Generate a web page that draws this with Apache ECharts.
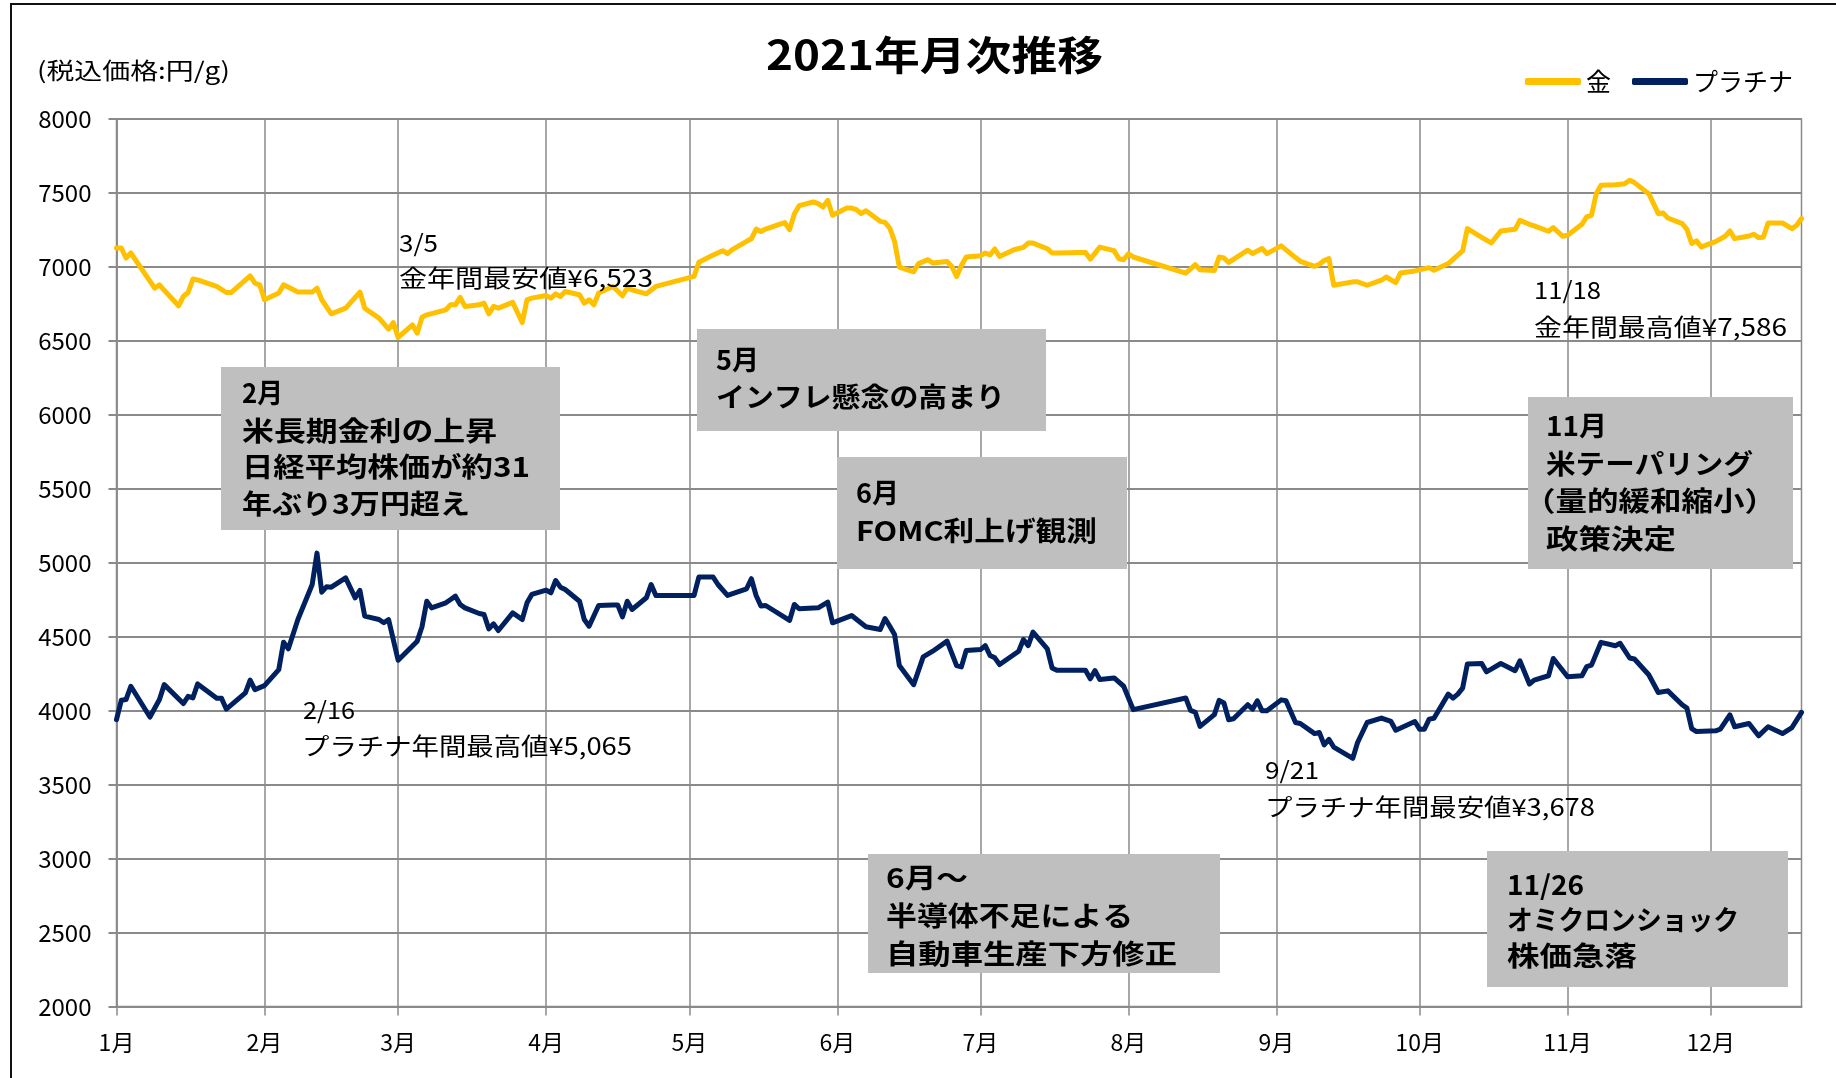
<!DOCTYPE html>
<html>
<head>
<meta charset="utf-8">
<script src="https://cdn.jsdelivr.net/npm/echarts@6/dist/echarts.min.js"></script>
<style>
html,body{margin:0;padding:0;background:#fff;}
#chart{width:1836px;height:1078px;}
</style>
</head>
<body>
<div id="chart"></div>
<script>
// ---- data ----
const axisStart = '2021-01-05';
const axisEnd = '2021-12-24';
const seriesNames = ['金', 'プラチナ'];
const yTicks = [2000, 8000, 500];

const goldDates = [
  '1/5','1/6','1/7','1/8','1/13','1/14','1/15','1/18','1/19','1/20','1/21','1/22','1/26','1/28','1/29',
  '2/2','2/3','2/4','2/5','2/8','2/9','2/12','2/15','2/16','2/17','2/19','2/22','2/25','2/26',
  '3/1','3/3','3/4','3/5','3/8','3/9','3/10','3/11','3/15','3/16','3/17','3/18','3/19','3/22','3/23','3/24','3/25','3/26','3/29','3/31',
  '4/1','4/2','4/5','4/6','4/7','4/8','4/9','4/12','4/13','4/14','4/15','4/16','4/19','4/21','4/22','4/23','4/26','4/28',
  '5/6','5/7','5/10','5/12','5/13','5/14','5/17','5/18','5/19','5/20','5/21','5/24','5/25','5/26','5/27','5/28','5/31',
  '6/1','6/2','6/3','6/4','6/7','6/8','6/9','6/10','6/11','6/14','6/15','6/16','6/17','6/18','6/21','6/22','6/24','6/25','6/28','6/29','6/30',
  '7/1','7/2','7/5','7/6','7/7','7/8','7/9','7/12','7/14','7/15','7/16','7/19','7/20','7/21','7/26','7/27','7/28','7/30',
  '8/2','8/3','8/4','8/5','8/6','8/17','8/19','8/20','8/23','8/24','8/25','8/26','8/30','8/31',
  '9/2','9/3','9/6','9/9','9/10','9/13','9/14','9/15','9/16','9/17','9/21','9/22','9/24','9/27','9/28','9/30',
  '10/1','10/4','10/7','10/8','10/11','10/14','10/15','10/18','10/20','10/22','10/25','10/26','10/28','10/29',
  '11/1','11/2','11/4','11/5','11/8','11/9','11/10','11/11','11/12','11/15','11/17','11/18','11/19','11/22','11/24','11/25','11/26','11/29','11/30',
  '12/1','12/2','12/3','12/6','12/8','12/9','12/10','12/13','12/14','12/15','12/16','12/17','12/20','12/22','12/23','12/24'
];
const goldValues = [
  7128,7128,7060,7094,6857,6879,6842,6737,6800,6827,6918,6912,6868,6827,6827,
  6940,6891,6879,6778,6823,6879,6830,6830,6857,6778,6683,6721,6830,6721,
  6654,6579,6624,6523,6608,6552,6660,6676,6710,6744,6744,6794,6733,6744,6755,6683,6733,6721,6760,6624,
  6778,6789,6807,6789,6818,6800,6834,6812,6755,6778,6744,6823,6868,6805,6857,6845,6818,6868,
  6936,7031,7080,7110,7090,7117,7173,7190,7256,7240,7256,7290,7300,7252,7358,7414,7439,
  7428,7405,7450,7349,7398,7398,7387,7360,7380,7308,7301,7263,7173,6999,6967,7022,7049,7026,7037,7003,6936,
  7010,7067,7076,7094,7082,7121,7071,7116,7132,7161,7161,7123,7094,7094,7098,7098,7053,7134,
  7110,7055,7049,7089,7067,6958,7015,6981,6976,7067,7060,7031,7113,7091,
  7124,7090,7142,7063,7038,7004,7018,7043,7056,6876,6899,6899,6876,6910,6932,6894,
  6959,6973,6995,6977,7023,7108,7259,7200,7162,7243,7254,7315,7288,7277,
  7241,7266,7207,7214,7288,7338,7349,7495,7552,7556,7563,7586,7570,7495,7360,7365,7331,7293,7254,
  7158,7176,7135,7171,7207,7243,7191,7209,7221,7198,7200,7297,7297,7259,7282,7327
];

const platDates = [
  '1/5','1/6','1/7','1/8','1/12','1/14','1/15','1/19','1/20','1/21','1/22','1/26','1/27','1/28',
  '2/1','2/2','2/3','2/5','2/8','2/9','2/10','2/12','2/15','2/16','2/17','2/18','2/19','2/22','2/24','2/25','2/26',
  '3/1','3/2','3/3','3/5','3/9','3/10','3/11','3/12','3/15','3/16','3/17','3/18','3/19','3/22','3/23','3/24','3/25','3/26','3/29','3/31',
  '4/1','4/2','4/5','4/6','4/7','4/8','4/9','4/12','4/13','4/14','4/16','4/19','4/20','4/21','4/22','4/23','4/26','4/27','4/28',
  '5/6','5/7','5/10','5/11','5/13','5/17','5/18','5/19','5/20','5/21','5/26','5/27','5/28',
  '6/1','6/3','6/4','6/8','6/11','6/14','6/15','6/16','6/17','6/18','6/21','6/23','6/25','6/28','6/30',
  '7/1','7/2','7/5','7/6','7/7','7/8','7/9','7/13','7/14','7/15','7/16','7/19','7/20','7/21','7/26','7/27','7/28','7/29','7/30',
  '8/2','8/4','8/6','8/17','8/18','8/19','8/20','8/23','8/24','8/25','8/26','8/27','8/30','8/31',
  '9/1','9/2','9/3','9/6','9/7','9/9','9/10','9/13','9/14','9/15','9/16','9/17','9/21','9/22','9/24','9/27','9/29','9/30',
  '10/4','10/5','10/6','10/7','10/8','10/11','10/12','10/13','10/14','10/15','10/18','10/19','10/20','10/22','10/25','10/26','10/28','10/29',
  '11/1','11/2','11/5','11/8','11/9','11/10','11/12','11/15','11/16','11/18','11/19','11/22','11/24','11/26','11/29','11/30',
  '12/1','12/2','12/6','12/7','12/9','12/10','12/13','12/15','12/17','12/20','12/22','12/24'
];
const platValues = [
  3939,4070,4075,4165,3957,4075,4176,4048,4097,4086,4181,4084,4084,4011,
  4120,4206,4142,4169,4278,4463,4418,4616,4853,5065,4801,4837,4835,4898,4763,4813,4639,
  4616,4594,4616,4341,4470,4567,4740,4695,4729,4752,4774,4718,4695,4657,4650,4553,4587,4542,4661,4616,
  4729,4786,4815,4797,4880,4835,4819,4740,4616,4571,4711,4715,4715,4634,4740,4684,4763,4853,4779,
  4779,4903,4903,4853,4779,4824,4892,4779,4707,4711,4610,4718,4689,
  4695,4734,4594,4643,4567,4549,4623,4571,4515,4305,4176,4364,4402,4470,4305,
  4296,4406,4413,4440,4373,4357,4312,4402,4481,4440,4531,4418,4289,4273,4273,4273,4215,4271,4210,
  4221,4165,4007,4086,4002,3989,3894,3973,4070,4052,3939,3945,4040,4010,
  4067,3999,3999,4073,4067,3920,3913,3845,3852,3769,3806,3754,3678,3785,3920,3950,3927,3868,
  3927,3875,3875,3943,3949,4112,4085,4112,4152,4315,4319,4263,4281,4319,4270,4337,4180,4207,
  4236,4353,4229,4236,4297,4308,4462,4439,4455,4356,4349,4243,4123,4134,4040,4017,
  3879,3859,3864,3875,3972,3891,3913,3830,3891,3845,3886,3988
];

// ---- axis categories: every calendar day of the axis span ----
const categories = [];
(function () {
  const s = new Date(axisStart + 'T00:00:00Z').getTime();
  const e = new Date(axisEnd + 'T00:00:00Z').getTime();
  for (let t = s; t <= e; t += 86400000) {
    const d = new Date(t);
    categories.push((d.getUTCMonth() + 1) + '/' + d.getUTCDate());
  }
})();
const tickDay = axisStart.split('-')[2].replace(/^0/, '');
const isMonthTick = (idx, name) => name.split('/')[1] === tickDay;
const toPairs = (dates, vals) => dates.map((d, i) => [categories.indexOf(d), vals[i]]);

// ---- text helpers (annotations) ----
const FONT = '"Noto Sans CJK JP", "Noto Sans CJK SC", sans-serif';
const mctx = document.createElement('canvas').getContext('2d');
function fitText(text, x, yc, w, size, bold) {
  const font = (bold ? 'bold ' : '') + size + 'px ' + FONT;
  mctx.font = font;
  const m = mctx.measureText(text).width;
  const sx = m > 0 ? w / m : 1;
  return {
    type: 'text', x: x, y: yc, scaleX: sx, scaleY: 1, z: 20,
    style: { text: text, font: font, fill: '#000', textAlign: 'left', verticalAlign: 'middle', textVerticalAlign: 'middle' }
  };
}
function box(x, y, w, h) {
  return { type: 'rect', z: 15, shape: { x: x, y: y, width: w, height: h }, style: { fill: '#bfbfbf' } };
}

const graphics = [
  { type: 'rect', z: 1, shape: { x: 11, y: 4, width: 1900, height: 1200 }, style: { fill: 'none', stroke: '#111', lineWidth: 2 } },
  fitText('2021年月次推移', 766, 55, 337, 40, true),
  fitText('(税込価格:円/g)', 37, 70, 193, 23, false),

  fitText('3/5', 399, 243, 39, 24, false),
  fitText('金年間最安値¥6,523', 399, 278, 254, 24, false),
  fitText('11/18', 1534, 290, 67, 24, false),
  fitText('金年間最高値¥7,586', 1534, 327, 253, 24, false),
  fitText('2/16', 303, 710, 52, 24, false),
  fitText('プラチナ年間最高値¥5,065', 302, 746, 330, 24, false),
  fitText('9/21', 1265, 770, 54, 24, false),
  fitText('プラチナ年間最安値¥3,678', 1265, 807, 330, 24, false),

  box(221, 367, 339, 163),
  fitText('2月', 242, 393, 41, 27, true),
  fitText('米長期金利の上昇', 242, 431, 255, 27, true),
  fitText('日経平均株価が約31', 242, 467, 288, 27, true),
  fitText('年ぶり3万円超え', 242, 504, 228, 27, true),

  box(697, 329, 349, 102),
  fitText('5月', 716, 360, 43, 27, true),
  fitText('インフレ懸念の高まり', 716, 397, 289, 27, true),

  box(837, 457, 290, 112),
  fitText('6月', 856, 493, 43, 27, true),
  fitText('FOMC利上げ観測', 856, 531, 241, 27, true),

  box(1528, 397, 265, 172),
  fitText('11月', 1546, 426, 61, 27, true),
  fitText('米テーパリング', 1546, 464, 207, 27, true),
  fitText('（量的緩和縮小）', 1524, 501, 252, 27, true),
  fitText('政策決定', 1546, 539, 130, 27, true),

  box(868, 854, 352, 119),
  fitText('6月～', 886, 878, 82, 27, true),
  fitText('半導体不足による', 886, 916, 247, 27, true),
  fitText('自動車生産下方修正', 886, 954, 291, 27, true),

  box(1487, 851, 301, 136),
  fitText('11/26', 1507, 885, 77, 27, true),
  fitText('オミクロンショック', 1507, 920, 232, 27, true),
  fitText('株価急落', 1507, 956, 130, 27, true)
];

const chart = echarts.init(document.getElementById('chart'), null, { renderer: 'canvas' });
const gridColor = '#8a8a8a';
chart.setOption({
  animation: false,
  backgroundColor: '#fff',
  textStyle: { fontFamily: FONT },
  grid: { left: 116.5, right: 34.5, top: 119, bottom: 71.5, show: true, borderColor: gridColor, borderWidth: 1.5, backgroundColor: 'transparent' },
  legend: {
    right: 38, top: 64,
    icon: 'roundRect', itemWidth: 56, itemHeight: 7, itemGap: 21,
    textStyle: { fontSize: 25, color: '#000', fontFamily: FONT },
    data: seriesNames
  },
  xAxis: {
    type: 'category',
    data: categories,
    boundaryGap: false,
    axisLine: { lineStyle: { color: gridColor, width: 2 } },
    axisTick: { show: true, interval: isMonthTick, length: 9, lineStyle: { color: gridColor, width: 1.5 } },
    axisLabel: {
      interval: isMonthTick, margin: 24, fontSize: 23, color: '#000', fontFamily: FONT,
      formatter: v => v.split('/')[0] + '月'
    },
    splitLine: { show: true, interval: isMonthTick, lineStyle: { color: gridColor, width: 1.5 } }
  },
  yAxis: {
    type: 'value',
    min: yTicks[0], max: yTicks[1], interval: yTicks[2],
    axisLine: { show: true, lineStyle: { color: gridColor, width: 1.5 } },
    axisTick: { show: true, length: 8, lineStyle: { color: gridColor, width: 2 } },
    axisLabel: { margin: 25, fontSize: 24, color: '#000', fontFamily: FONT, formatter: v => String(v) },
    splitLine: { show: true, lineStyle: { color: gridColor, width: 2 } }
  },
  series: [
    {
      name: seriesNames[0], type: 'line', data: toPairs(goldDates, goldValues),
      showSymbol: false, symbol: 'none', color: '#ffc000',
      lineStyle: { color: '#ffc000', width: 5, join: 'round', cap: 'round' }, z: 5
    },
    {
      name: seriesNames[1], type: 'line', data: toPairs(platDates, platValues),
      showSymbol: false, symbol: 'none', color: '#002060',
      lineStyle: { color: '#002060', width: 5, join: 'round', cap: 'round' }, z: 5
    }
  ],
  graphic: { elements: graphics }
});
</script>
</body>
</html>
